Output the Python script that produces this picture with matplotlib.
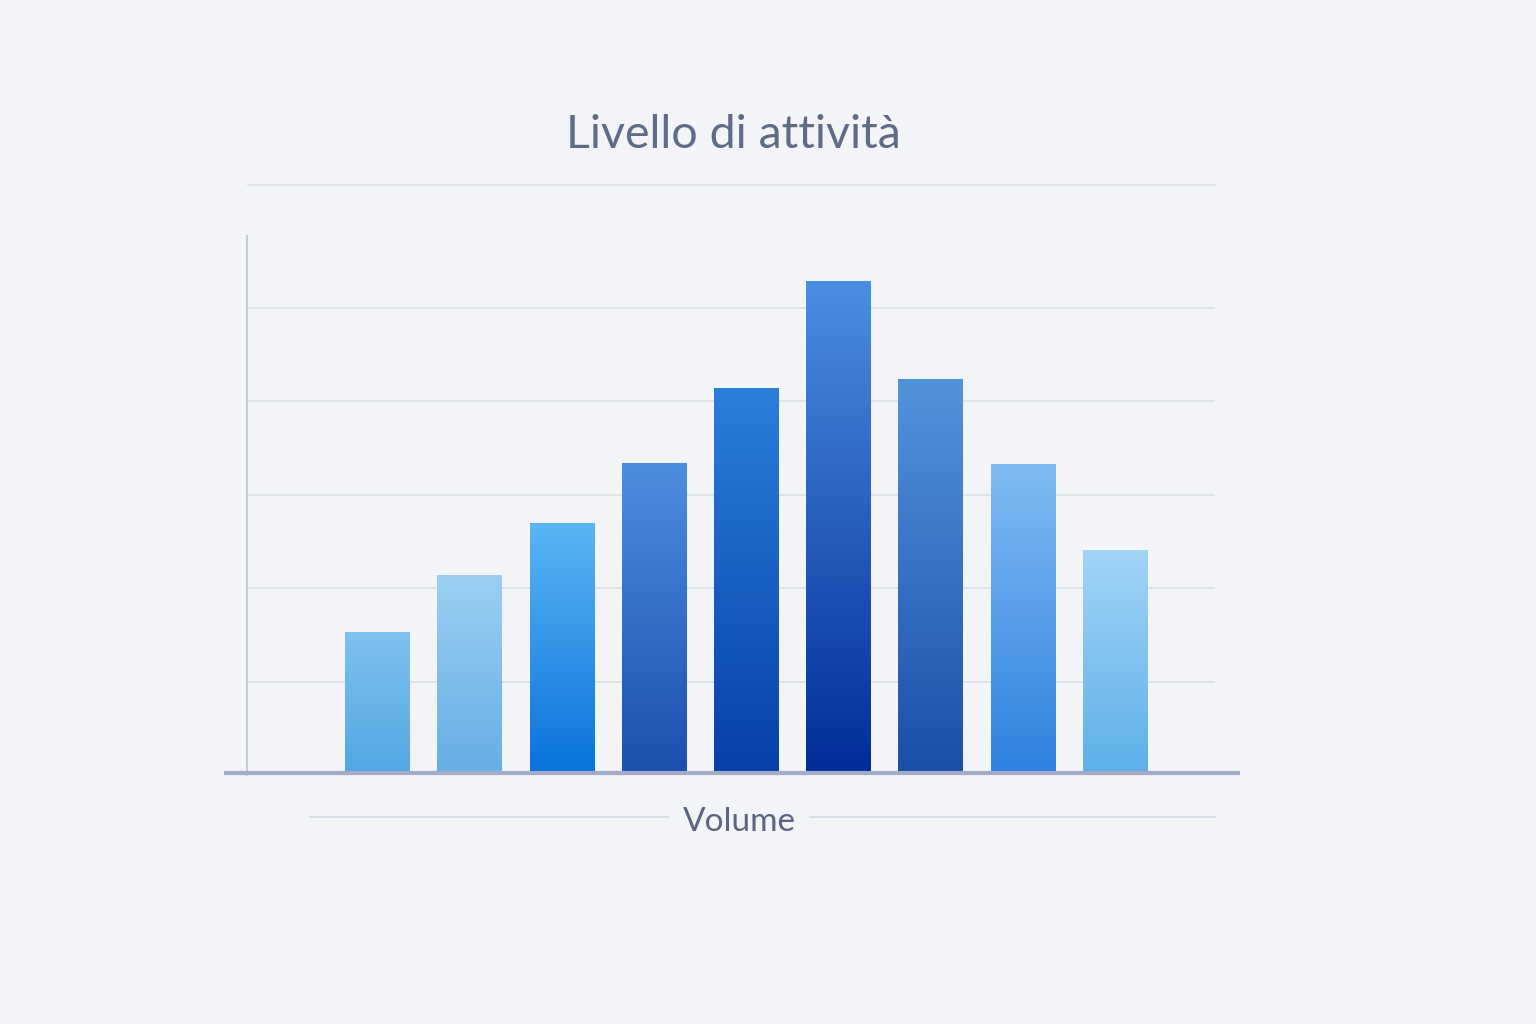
import matplotlib.pyplot as plt
import numpy as np
from matplotlib.colors import LinearSegmentedColormap

plt.rcParams['font.family'] = ['Lato', 'DejaVu Sans']

# valori (scala: griglia ogni 20)
values = [30.4, 42.6, 53.7, 66.7, 82.6, 105.5, 84.5, 66.5, 48.1]
top_colors = ['#7dc2f0', '#9ccff2', '#5ab6f4', '#4c8ee0', '#2a7fd9', '#4a8ee4', '#5294dc', '#80bcf3', '#a2d4f6']
bottom_colors = ['#52a6e3', '#64aee6', '#0872dc', '#1a4fae', '#0540a8', '#022c98', '#1a4ea8', '#2e80e0', '#5cb0ea']
grid_levels = [20, 40, 60, 80, 100]
title = "Livello di attività"
xlabel = "Volume"

bg = '#f3f4f7'
fig = plt.figure(figsize=(15.36, 10.24), dpi=100, facecolor=bg)
ax = fig.add_axes([247/1536, 1-775/1024, 968/1536, 539/1024])
ax.set_facecolor(bg)

width = 0.70
grad = np.linspace(1, 0, 256).reshape(-1, 1)
for i, v in enumerate(values):
    cmap = LinearSegmentedColormap.from_list('b%d' % i, [bottom_colors[i], top_colors[i]])
    ax.imshow(grad, extent=[i - width/2, i + width/2, 0, v], aspect='auto',
              cmap=cmap, vmin=0, vmax=1, zorder=3, interpolation='bicubic')

for g in grid_levels:
    ax.axhline(g, color='#dde0ea', lw=1.3, zorder=1)

ax.set_xlim(-1.415, 9.085)
ax.set_ylim(0, 115.3)

for s in ['top', 'right', 'bottom']:
    ax.spines[s].set_visible(False)
ax.spines['left'].set_color('#bcc2d4')
ax.spines['left'].set_linewidth(1.2)
ax.set_xticks([])
ax.set_yticks([])

# linea di base più larga dell'area
ax.plot([-0.0238, 1.0258], [0.004, 0.004], transform=ax.transAxes, color='#a4abc8',
        lw=3, clip_on=False, zorder=4, solid_capstyle='butt')

# titolo e separatore
fig.text(733/1536, 1-148/1024, title, ha='center', va='baseline', fontsize=33.5, color='#5e6c88')
fig.add_artist(plt.Line2D([248/1536, 1215/1536], [1-185/1024]*2, color='#dfe2ea', lw=1.3))

# etichetta asse x con linee laterali
fig.text(739/1536, 1-831/1024, xlabel, ha='center', va='baseline', fontsize=24, color='#5b6580')
fig.add_artist(plt.Line2D([310/1536, 668/1536], [1-817/1024]*2, color='#d4d8e4', lw=1.2))
fig.add_artist(plt.Line2D([810/1536, 1215/1536], [1-817/1024]*2, color='#d4d8e4', lw=1.2))

fig.savefig('out.png', dpi=100, facecolor=bg)
